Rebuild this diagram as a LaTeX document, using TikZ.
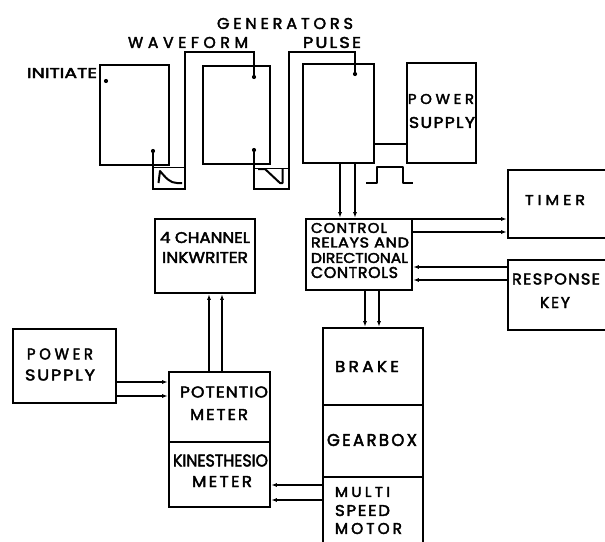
\documentclass[tikz,border=0pt]{standalone}
\usepackage{fontspec}
\usepackage{graphicx}
\usetikzlibrary{arrows.meta,calc}
\newfontfamily\labfont{Poppins}[FakeBold=2.6]
\newcommand\fw[4]{\resizebox{#1pt}{#2pt}{\addfontfeature{LetterSpace=#3}#4}}
\begin{document}
\begin{tikzpicture}[x=1pt,y=-1pt,
  box/.style={draw, line width=2.6pt, inner sep=0pt},
  gbox/.style={draw, line width=0.9pt, inner sep=0pt},
  lab/.style={inner sep=0pt, font=\labfont},
  wire/.style={line width=1.1pt},
  arr/.style={line width=1.1pt, -{Latex[length=5.5pt,width=4pt]}},
  glyph/.style={line width=2pt, line join=round},
  dotn/.style={circle, fill, inner sep=0pt, minimum size=4.2pt}]
\useasboundingbox (0,0) rectangle (605,541);
\clip (0,0) rectangle (605,541);
% boxes
\node[box, minimum width=69pt, minimum height=100pt] (wf1) at (134.5,115) {};
\node[box, minimum width=67pt, minimum height=98pt] (wf2) at (236.5,115) {};
\node[box, minimum width=71pt, minimum height=99pt] (pulse) at (338.5,113.5) {};
\node[box, minimum width=69pt, minimum height=100pt] (ps1) at (441.5,113) {};
\node[box, minimum width=112pt, minimum height=68pt] (timer) at (564,204) {};
\node[box, minimum width=112pt, minimum height=70pt] (resp) at (564,295) {};
\node[box, minimum width=106pt, minimum height=71pt] (ctrl) at (359,254.5) {};
\node[box, minimum width=100pt, minimum height=74pt] (ink) at (205,256) {};
\node[box, minimum width=103pt, minimum height=74pt] (ps2) at (64.5,366) {};
\node[box, minimum width=101pt, minimum height=70pt] (pot) at (219.5,407) {};
\node[box, minimum width=101pt, minimum height=65pt] (kin) at (219.5,474.5) {};
\node[box, minimum width=100pt, minimum height=77pt] (brake) at (373,366.5) {};
\node[box, minimum width=100pt, minimum height=72pt] (gear) at (373,441) {};
\node[box, minimum width=100pt, minimum height=103pt] (motor) at (373,528.5) {};
% waveform boxes
\node[gbox, minimum width=32pt, minimum height=22pt] (g1) at (169,178) {};
\node[gbox, minimum width=35pt, minimum height=21pt] (g2) at (271.5,178.5) {};
\draw[glyph] (158.5,183) -- (160,171) .. controls (166,178) and (170,183) .. (177,183) -- (182,183);
\draw[glyph] (258,169) -- (265,169) -- (280,183) -- (282.5,183) -- (282.5,169);
\draw[glyph] (366,183) -- (377,183) -- (377,167) -- (403,167) -- (403,183) -- (413,183);
% dots
\node[dotn] (d0) at (106,81) {};
\node[dotn] (d1) at (153,151) {};
\node[dotn] (d2) at (254,77) {};
\node[dotn] (d3) at (254,150) {};
\node[dotn] (d4) at (355,74) {};
\coordinate (c1) at (185,189);
\coordinate (c2) at (254,52);
\coordinate (c3) at (289,189);
\coordinate (c4) at (355,52);
\draw[wire] (d1.center) |- (c1) |- (c2) -- (d2.center);
\draw[wire] (d3.center) |- (c3) |- (c4) -- (d4.center);
% connectors
\draw[wire] ([yshift=-30.5pt]pulse.east) -- ([yshift=-30.5pt]pulse.east -| ps1.west);
\draw[arr] ([xshift=1.5pt]pulse.south) -- ([xshift=1.5pt]pulse.south |- ctrl.north);
\draw[arr] ([xshift=16.5pt]pulse.south) -- ([xshift=16.5pt]pulse.south |- ctrl.north);
\draw[arr] ([yshift=35.5pt]ctrl.east) -- ([yshift=35.5pt]ctrl.east -| timer.west);
\draw[arr] ([yshift=22.5pt]ctrl.east) -- ([yshift=22.5pt]ctrl.east -| timer.west);
\draw[arr] ([yshift=-12.5pt]ctrl.east -| resp.west) -- ([yshift=-12.5pt]ctrl.east);
\draw[arr] ([yshift=-25.5pt]ctrl.east -| resp.west) -- ([yshift=-25.5pt]ctrl.east);
\draw[arr] ([xshift=6pt]ctrl.south) -- ([xshift=6pt]ctrl.south |- brake.north);
\draw[arr] ([xshift=20pt]ctrl.south) -- ([xshift=20pt]ctrl.south |- brake.north);
\draw[arr] ([xshift=-10.5pt]pot.north) -- ([xshift=-10.5pt]pot.north |- ink.south);
\draw[arr] ([xshift=2.5pt]pot.north) -- ([xshift=2.5pt]pot.north |- ink.south);
\draw[arr] ([yshift=-16pt]ps2.east) -- ([yshift=-16pt]ps2.east -| pot.west);
\draw[arr] ([yshift=-30pt]ps2.east) -- ([yshift=-30pt]ps2.east -| pot.west);
\draw[arr] ([yshift=-10.5pt]kin.east -| motor.west) -- ([yshift=-10.5pt]kin.east);
\draw[arr] ([yshift=-25.5pt]kin.east -| motor.west) -- ([yshift=-25.5pt]kin.east);
% labels
\node[lab] (tInit) at (62,73) {\fw{70}{10}{0}{INITIATE}};
\node[lab] (tGen) at (285,23.5) {\fw{136}{11}{24}{GENERATORS}};
\node[lab] (tWave) at (188,42.5) {\fw{120}{11}{30}{WAVEFORM}};
\node[lab] (tPulse) at (332,42.5) {\fw{58}{11}{12}{PULSE}};
\node[lab] (tPw1) at (441,99) {\fw{66}{10}{25}{POWER}};
\node[lab] (tSu1) at (442,122.5) {\fw{66}{11}{8}{SUPPLY}};
\node[lab] (tTimer) at (555,200) {\fw{60}{10}{25}{TIMER}};
\node[lab] (tC1) at (349,228) {\fw{76}{10}{8}{CONTROL}};
\node[lab] (tC2) at (360,242.5) {\fw{98}{10}{4}{RELAYS AND}};
\node[lab] (tC3) at (359.5,258) {\fw{97}{10}{0}{DIRECTIONAL}};
\node[lab] (tC4) at (354.5,272.5) {\fw{87}{11}{4}{CONTROLS}};
\node[lab] (tResp) at (556,279) {\fw{88}{11}{8}{RESPONSE}};
\node[lab] (tKey) at (555,302.5) {\fw{30}{11}{10}{KEY}};
\node[lab] (tInk1) at (205,237.5) {\fw{90}{11}{0}{4 CHANNEL}};
\node[lab] (tInk2) at (205,257.5) {\fw{86}{11}{0}{INKWRITER}};
\node[lab] (tPw2) at (60,354) {\fw{66}{11}{25}{POWER}};
\node[lab] (tSu2) at (60,375) {\fw{70}{11}{10}{SUPPLY}};
\node[lab] (tPot1) at (224,392) {\fw{88}{11}{6}{POTENTIO}};
\node[lab] (tPot2) at (219,414.5) {\fw{58}{11}{12}{METER}};
\node[lab] (tKin1) at (220.5,460.5) {\fw{95}{12}{0}{KINESTHESIO}};
\node[lab] (tKin2) at (222,481.5) {\fw{60}{11}{14}{METER}};
\node[lab] (tBrake) at (367,366.5) {\fw{64}{11}{20}{BRAKE}};
\node[lab] (tGear) at (372,440) {\fw{90}{12}{14}{GEARBOX}};
\node[lab] (tM1) at (362.5,492) {\fw{55}{10}{22}{MULTI}};
\node[lab] (tM2) at (362.5,510.5) {\fw{55}{11}{10}{SPEED}};
\node[lab] (tM3) at (368.5,528.5) {\fw{67}{11}{20}{MOTOR}};
\end{tikzpicture}
\end{document}
